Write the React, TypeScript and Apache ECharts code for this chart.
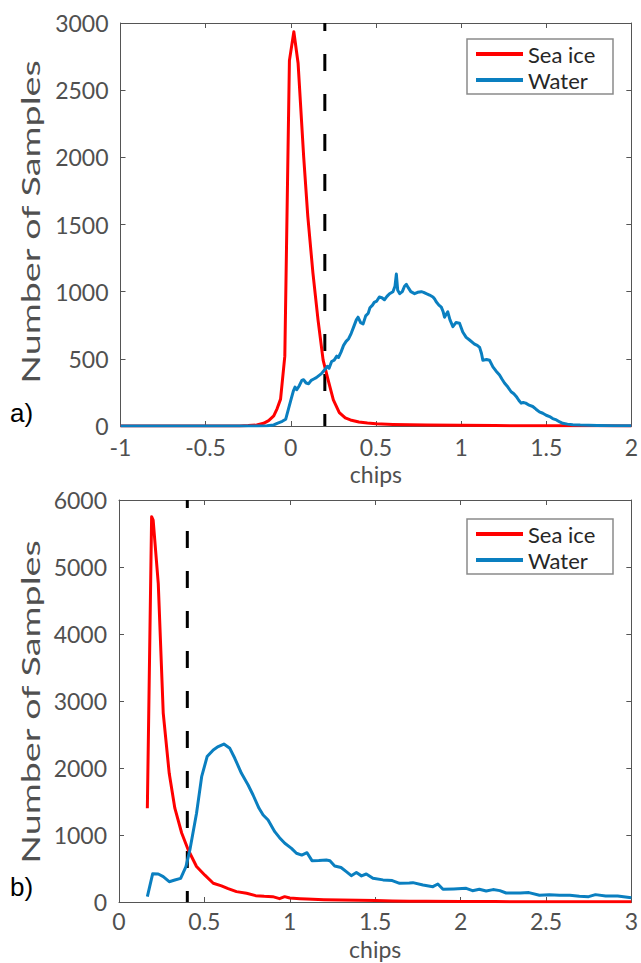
import React, { useEffect, useRef } from "react";
import * as echarts from "echarts";

// ---- data (x = chips, y = number of samples) ----
const seaIceA: [number, number][] = [
  [-1, 0], [-0.3, 0], [-0.25, 3], [-0.2, 8], [-0.16, 20], [-0.13, 40], [-0.1, 75], [-0.08, 130],
  [-0.06, 200], [-0.035, 520], [-0.008, 2720], [0.018, 2935], [0.043, 2700], [0.076, 2000],
  [0.1, 1560], [0.13, 1140], [0.16, 790], [0.19, 490], [0.22, 340], [0.25, 195], [0.285, 100],
  [0.32, 60], [0.35, 45], [0.4, 30], [0.45, 22], [0.5, 17], [0.6, 12], [0.7, 9], [0.8, 7],
  [1.0, 5], [1.2, 3], [1.5, 2], [1.8, 1], [2.0, 0],
];

const waterA: [number, number][] = [
  [-1, 0], [-0.2, 0], [-0.14, 2], [-0.1, 8], [-0.08, 20], [-0.05, 35], [-0.03, 50], [-0.015, 120],
  [0.0, 190], [0.015, 260], [0.025, 290], [0.035, 270], [0.05, 300], [0.065, 340], [0.075, 345],
  [0.09, 320], [0.105, 315], [0.12, 340], [0.135, 350], [0.15, 360], [0.165, 375], [0.18, 390],
  [0.2, 420], [0.215, 445], [0.225, 430], [0.24, 480], [0.255, 490], [0.27, 520], [0.28, 510],
  [0.295, 550], [0.31, 600], [0.325, 630], [0.34, 650], [0.355, 690], [0.37, 740], [0.385, 790],
  [0.395, 810], [0.41, 770], [0.425, 760], [0.44, 820], [0.455, 840], [0.465, 880], [0.48, 900],
  [0.49, 920], [0.505, 930], [0.52, 960], [0.535, 955], [0.55, 940], [0.565, 965], [0.58, 985],
  [0.6, 1000], [0.612, 1040], [0.62, 1131], [0.628, 1010], [0.64, 985], [0.655, 1000],
  [0.668, 1040], [0.679, 1054], [0.69, 1030], [0.705, 1000], [0.727, 985], [0.745, 995],
  [0.767, 1000], [0.78, 995], [0.796, 985], [0.815, 975], [0.835, 960], [0.845, 945],
  [0.854, 925], [0.87, 900], [0.884, 885], [0.895, 850], [0.903, 810], [0.912, 830],
  [0.922, 850], [0.935, 790], [0.952, 740], [0.97, 770], [0.991, 765], [1.01, 700], [1.03, 660],
  [1.05, 640], [1.079, 610], [1.095, 600], [1.109, 585], [1.12, 540], [1.128, 490], [1.15, 495],
  [1.167, 490], [1.187, 440], [1.205, 410], [1.226, 380], [1.24, 350], [1.255, 320], [1.275, 290],
  [1.294, 255], [1.31, 240], [1.324, 220], [1.34, 190], [1.353, 170], [1.365, 175], [1.38, 170],
  [1.4, 155], [1.421, 145], [1.44, 125], [1.46, 105], [1.48, 95], [1.5, 80], [1.52, 70],
  [1.538, 55], [1.56, 45], [1.58, 30], [1.597, 20], [1.625, 14], [1.656, 10], [1.7, 7],
  [1.75, 5], [1.8, 4], [1.9, 2], [2.0, 1],
];

const seaIceB: [number, number][] = [
  [0.166, 1400], [0.191, 5750], [0.2, 5700], [0.23, 4750], [0.259, 2820], [0.294, 1920],
  [0.327, 1400], [0.367, 1030], [0.405, 780], [0.454, 530], [0.503, 400], [0.552, 280],
  [0.6, 240], [0.639, 200], [0.688, 155], [0.747, 130], [0.8, 95], [0.85, 85], [0.9, 80],
  [0.94, 50], [0.97, 80], [1.0, 60], [1.06, 50], [1.1, 45], [1.2, 35], [1.3, 30], [1.4, 25],
  [1.5, 22], [1.6, 15], [1.7, 12], [1.8, 10], [2.0, 8], [2.2, 6], [2.5, 4], [2.8, 3], [3.0, 2],
];

const waterB: [number, number][] = [
  [0.166, 80], [0.197, 420], [0.23, 418], [0.259, 378], [0.294, 303], [0.327, 328], [0.361, 353],
  [0.392, 527], [0.415, 776], [0.454, 1324], [0.484, 1870], [0.516, 2170], [0.552, 2270],
  [0.581, 2320], [0.614, 2358], [0.649, 2294], [0.678, 2145], [0.717, 1920], [0.756, 1746],
  [0.785, 1597], [0.82, 1398], [0.844, 1298], [0.873, 1224], [0.912, 1050], [0.94, 960],
  [0.971, 876], [1.01, 801], [1.039, 727], [1.07, 700], [1.101, 736], [1.13, 617], [1.17, 620],
  [1.214, 627], [1.235, 615], [1.263, 537], [1.3, 515], [1.331, 453], [1.36, 393], [1.39, 440],
  [1.42, 390], [1.448, 418], [1.487, 353], [1.546, 330], [1.6, 320], [1.643, 279], [1.7, 285],
  [1.721, 289], [1.78, 254], [1.838, 229], [1.867, 269], [1.897, 189], [1.96, 195], [2.033, 204],
  [2.07, 169], [2.11, 190], [2.15, 164], [2.19, 185], [2.23, 170], [2.267, 134], [2.35, 134],
  [2.4, 140], [2.462, 100], [2.52, 110], [2.58, 100], [2.64, 100], [2.696, 85], [2.75, 80],
  [2.79, 110], [2.85, 90], [2.92, 90], [3.0, 65],
];

const thresholdA = 0.2;
const thresholdB = 0.4;

// axis ranges / tick steps
const xRangeA = [-1, 2];
const yRangeA = [0, 3000];
const xRangeB = [0, 3];
const yRangeB = [0, 6000];
const xStep = 0.5;
const yStepA = 500;
const yStepB = 1000;

const seriesNames = ["Sea ice", "Water"];
const panelLabels = ["a)", "b)"];
const xTitle = "chips";
const yTitle = "Number of Samples";

const RED = "#ff0000";
const BLUE = "#0a7fc0";
const AXIS = "#555555";
const TXT = "#505050";
const FONT = "Lato";

function measure(text: string, size: number, family: string) {
  const c = document.createElement("canvas").getContext("2d");
  if (!c) return text.length * size * 0.5;
  c.font = `${size}px ${family}`;
  return c.measureText(text).width;
}

export default function App() {
  const ref = useRef<HTMLDivElement>(null);

  useEffect(() => {
    if (!ref.current) return;
    const chart = echarts.init(ref.current, undefined, { renderer: "svg" });

    const grids = [
      { left: 120.5, top: 23, width: 511.5, height: 403 },
      { left: 119, top: 500, width: 513, height: 402 },
    ];

    const tickLabel = { color: TXT, fontSize: 23, fontFamily: FONT, lineHeight: 20 };
    const plain = (v: number) => String(v);
    const mkX = (gi: number, range: number[], margin: number, nameGap: number) => [
      {
        type: "value", gridIndex: gi, position: "bottom",
        min: range[0], max: range[1], interval: xStep,
        axisLine: { show: true, onZero: false, lineStyle: { color: AXIS, width: 1 } },
        axisTick: { show: true, inside: true, length: 5, lineStyle: { color: AXIS } },
        axisLabel: { ...tickLabel, margin, showMinLabel: true, showMaxLabel: true, formatter: plain },
        splitLine: { show: false },
        name: xTitle, nameLocation: "middle", nameGap,
        nameTextStyle: { color: TXT, fontSize: 23, fontFamily: FONT, lineHeight: 22 },
      },
      {
        type: "value", gridIndex: gi, position: "top",
        min: range[0], max: range[1], interval: xStep,
        axisLine: { show: true, onZero: false, lineStyle: { color: AXIS, width: 1 } },
        axisTick: { show: true, inside: true, length: 5, lineStyle: { color: AXIS } },
        axisLabel: { show: false },
        splitLine: { show: false },
      },
    ];
    const mkY = (gi: number, range: number[], step: number) => [
      {
        type: "value", gridIndex: gi, position: "left",
        min: range[0], max: range[1], interval: step,
        axisLine: { show: true, onZero: false, lineStyle: { color: AXIS, width: 1 } },
        axisTick: { show: true, inside: true, length: 5, lineStyle: { color: AXIS } },
        axisLabel: { ...tickLabel, margin: 12, showMinLabel: true, showMaxLabel: true, formatter: plain },
        splitLine: { show: false },
      },
      {
        type: "value", gridIndex: gi, position: "right",
        min: range[0], max: range[1], interval: step,
        axisLine: { show: true, onZero: false, lineStyle: { color: AXIS, width: 1 } },
        axisTick: { show: true, inside: true, length: 5, lineStyle: { color: AXIS } },
        axisLabel: { show: false },
        splitLine: { show: false },
      },
    ];

    const line = (name: string, data: [number, number][], color: string, axisIdx: number, z: number) => ({
      type: "line", name, data, xAxisIndex: axisIdx, yAxisIndex: axisIdx,
      symbol: "none", showSymbol: false, z, silent: true,
      lineStyle: { color, width: 3, cap: "butt", join: "round" },
      itemStyle: { color },
    });
    const dashed = (x: number, range: number[], axisIdx: number) => ({
      type: "line", name: "threshold", xAxisIndex: axisIdx, yAxisIndex: axisIdx,
      data: [[x, range[1]], [x, range[0]]],
      symbol: "none", showSymbol: false, z: 1, silent: true,
      lineStyle: { color: "#000000", width: 3, type: [17, 23], dashOffset: 9, cap: "butt" },
    });

    const legendFont = 22;
    const tw = measure(seriesNames[0], legendFont, FONT);
    const padR = Math.max(2, 146 - 9 - 47 - 5 - tw);
    const mkLegend = (top: number) => ({
      data: seriesNames, orient: "vertical", left: 467, top,
      padding: [3, padR, 2, 9], itemWidth: 47, itemHeight: 4, itemGap: 2, icon: "rect",
      borderColor: "#8a8a8a", borderWidth: 1.5, backgroundColor: "#ffffff",
      selectedMode: false,
      textStyle: { color: "#262626", fontSize: legendFont, fontFamily: FONT, lineHeight: 24 },
    });

    const ySize = 25;
    const yLen = measure(yTitle, ySize, FONT);
    const yScale = 325 / yLen;
    const yTitleEl = (cy: number) => ({
      type: "text", x: 30, y: cy, rotation: Math.PI / 2, scaleX: yScale, scaleY: 1,
      style: {
        text: yTitle, fontSize: ySize, fontFamily: FONT, fill: TXT,
        align: "center", verticalAlign: "middle", textAlign: "center", textVerticalAlign: "middle",
      },
    });
    const panelEl = (text: string, cy: number) => ({
      type: "text", x: 10, y: cy,
      style: {
        text, fontSize: 26, fontFamily: "Liberation Sans", fill: "#000000",
        align: "left", verticalAlign: "middle", textAlign: "left", textVerticalAlign: "middle",
      },
    });

    chart.setOption({
      animation: false,
      backgroundColor: "#ffffff",
      grid: grids,
      xAxis: [...mkX(0, xRangeA, 11, 37), ...mkX(1, xRangeB, 9, 36)],
      yAxis: [...mkY(0, yRangeA, yStepA), ...mkY(1, yRangeB, yStepB)],
      legend: [mkLegend(39), mkLegend(519)],
      series: [
        dashed(thresholdA, yRangeA, 0),
        line(seriesNames[0], seaIceA, RED, 0, 2),
        line(seriesNames[1], waterA, BLUE, 0, 3),
        dashed(thresholdB, yRangeB, 2),
        line(seriesNames[0], seaIceB, RED, 2, 2),
        line(seriesNames[1], waterB, BLUE, 2, 3),
      ],
      graphic: [
        yTitleEl(222),
        yTitleEl(702),
        panelEl(panelLabels[0], 413),
        panelEl(panelLabels[1], 887),
      ],
    });

    return () => chart.dispose();
  }, []);

  return (
    <div
      ref={ref}
      style={{ position: "absolute", left: 0, top: 0, width: 641, height: 963, background: "#fff" }}
    />
  );
}
